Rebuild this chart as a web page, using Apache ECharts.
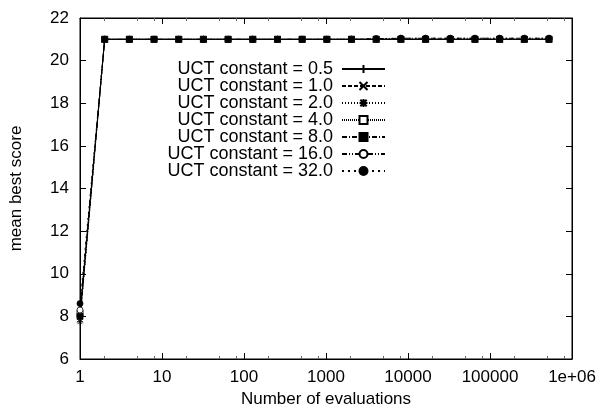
<!DOCTYPE html>
<html>
<head>
<meta charset="utf-8">
<script src="https://cdn.jsdelivr.net/npm/echarts@6/dist/echarts.min.js"></script>
<style>
  html, body { margin: 0; padding: 0; background: #fff; }
  #chart { width: 600px; height: 414px; }
</style>
</head>
<body>
<div id="chart"></div>
<script>
// Evaluation counts: powers of two from 1 up to 2^19
const evaluations = [1, 2, 4, 8, 16, 32, 64, 128, 256, 512, 1024, 2048, 4096, 8192,
  16384, 32768, 65536, 131072, 262144, 524288];

const seriesNames = ['UCT constant = 0.5', 'UCT constant = 1.0', 'UCT constant = 2.0',
  'UCT constant = 4.0', 'UCT constant = 8.0', 'UCT constant = 16.0', 'UCT constant = 32.0'];

// Mean best score per evaluation count, one list per UCT constant
const uct05 = [8.0, 21, 21, 21, 21, 21, 21, 21, 21, 21, 21, 21, 21, 21, 21, 21, 21, 21, 21, 21];
const uct1 = [7.85, 21, 21, 21, 21, 21, 21, 21, 21, 21, 21, 21, 21, 21, 21, 21, 21, 21, 21, 21];
const uct2 = [7.75, 21, 21, 21, 21, 21, 21, 21, 21, 21, 21, 21, 21, 21, 21, 21, 21, 21, 21, 21];
const uct4 = [8.15, 21, 21, 21, 21, 21, 21, 21, 21, 21, 21, 21, 21, 21, 21, 21, 21, 21, 21, 21];
const uct8 = [8.0, 21, 21, 21, 21, 21, 21, 21, 21, 21, 21, 21, 21, 21, 21, 21, 21, 21, 21, 21];
const uct16 = [8.3, 21, 21, 21, 21, 21, 21, 21, 21, 21, 21, 21, 21.03, 21.05, 21.05, 21.05, 21.05, 21.05, 21.05, 21.05];
const uct32 = [8.6, 21, 21, 21, 21, 21, 21, 21, 21, 21, 21, 21, 21.03, 21.05, 21.05, 21.05, 21.05, 21.05, 21.05, 21.05];

const xTickLabels = ['1', '10', '100', '1000', '10000', '100000', '1e+06'];
const yTicks = [6, 8, 10, 12, 14, 16, 18, 20, 22];

const allValues = [uct05, uct1, uct2, uct4, uct8, uct16, uct32];

// minor tick positions on the log axis: 2, 5 and 8 of each decade
const minorTicks = [];
for (let d = 1; d < 1e6; d *= 10) { minorTicks.push(2 * d, 5 * d, 8 * d); }

const FONT = "'Liberation Sans', Arial, Helvetica, sans-serif";
const INK = '#000';

const plusPath = 'path://M5,0 L5,10 M0,5 L10,5';
const crossPath = 'path://M0,0 L10,10 M10,0 L0,10';
const starPath = 'path://M5,0 L5,10 M0,5 L10,5 M1,1 L9,9 M9,1 L1,9';

const styles = [
  { dash: 'solid', symbol: plusPath, fill: INK, stroke: INK, size: 7 },
  { dash: [4, 2], symbol: crossPath, fill: INK, stroke: INK, size: 6 },
  { dash: [1, 2], symbol: starPath, fill: INK, stroke: INK, size: 6 },
  { dash: [1, 1], symbol: 'rect', fill: '#fff', stroke: INK, size: 6 },
  { dash: [5, 2, 1, 2], symbol: 'rect', fill: INK, stroke: INK, size: 6 },
  { dash: [5, 2, 1, 2, 1, 2], symbol: 'circle', fill: '#fff', stroke: INK, size: 6 },
  { dash: [2, 4], symbol: 'circle', fill: INK, stroke: INK, size: 6 }
];

const series = seriesNames.map((name, i) => ({
  name: name,
  type: 'line',
  xAxisIndex: 0,
  yAxisIndex: 0,
  data: evaluations.map((x, j) => [x, allValues[i][j]]),
  symbol: styles[i].symbol,
  symbolSize: styles[i].size,
  showSymbol: true,
  animation: false,
  lineStyle: { color: INK, width: 1, type: styles[i].dash },
  itemStyle: { color: styles[i].fill, borderColor: styles[i].stroke, borderWidth: 0.8 },
  emphasis: { disabled: true }
}));

const labelStyle = { color: INK, fontFamily: FONT, fontSize: 17 };

const logAxisBase = {
  type: 'log',
  logBase: 10,
  min: 1,
  max: 1e6,
  splitLine: { show: false },
  axisLine: { show: true, lineStyle: { color: INK, width: 1 } }
};

const chart = echarts.init(document.getElementById('chart'), null, { renderer: 'canvas' });
chart.setOption({
  backgroundColor: '#fff',
  animation: false,
  textStyle: { fontFamily: FONT },
  grid: { left: 79, right: 28, top: 18, bottom: 55, show: true, borderColor: INK, borderWidth: 1 },
  legend: {
    data: seriesNames,
    orient: 'vertical',
    right: 209,
    top: 55,
    align: 'right',
    itemWidth: 43,
    itemHeight: 10,
    itemGap: -1,
    selectedMode: false,
    textStyle: {
      color: INK, fontFamily: FONT, fontSize: 18, lineHeight: 17,
      width: 166, align: 'right', padding: [0, 4, 0, 0]
    }
  },
  xAxis: [
    Object.assign({}, logAxisBase, {
      position: 'bottom',
      name: 'Number of evaluations',
      nameLocation: 'middle',
      nameGap: 31,
      nameTextStyle: labelStyle,
      axisTick: { show: true, inside: true, length: 6, lineStyle: { color: INK } },
      axisLabel: {
        show: true, margin: 10, color: INK, fontFamily: FONT, fontSize: 17,
        formatter: (v) => xTickLabels[Math.round(Math.log10(v))]
      }
    }),
    Object.assign({}, logAxisBase, {
      position: 'top',
      axisTick: { show: true, inside: true, length: 6, lineStyle: { color: INK } },
      axisLabel: { show: false }
    }),
    Object.assign({}, logAxisBase, {
      position: 'bottom',
      axisLine: { show: false },
      axisTick: { show: true, inside: true, length: 3, customValues: minorTicks, lineStyle: { color: '#666' } },
      axisLabel: { show: false }
    }),
    Object.assign({}, logAxisBase, {
      position: 'top',
      axisLine: { show: false },
      axisTick: { show: true, inside: true, length: 3, customValues: minorTicks, lineStyle: { color: '#666' } },
      axisLabel: { show: false }
    })
  ],
  yAxis: [
    {
      type: 'value',
      position: 'left',
      min: yTicks[0],
      max: yTicks[yTicks.length - 1],
      interval: 2,
      name: 'mean best score',
      nameLocation: 'middle',
      nameGap: 55,
      nameRotate: 90,
      nameTextStyle: labelStyle,
      splitLine: { show: false },
      axisLine: { show: true, lineStyle: { color: INK } },
      axisTick: { show: true, inside: true, length: 6, lineStyle: { color: INK } },
      axisLabel: { show: true, margin: 11, color: INK, fontFamily: FONT, fontSize: 17 }
    },
    {
      type: 'value',
      position: 'right',
      min: yTicks[0],
      max: yTicks[yTicks.length - 1],
      interval: 2,
      splitLine: { show: false },
      axisLine: { show: true, lineStyle: { color: INK } },
      axisTick: { show: true, inside: true, length: 6, lineStyle: { color: INK } },
      axisLabel: { show: false }
    }
  ],
  series: series
});
</script>
</body>
</html>
